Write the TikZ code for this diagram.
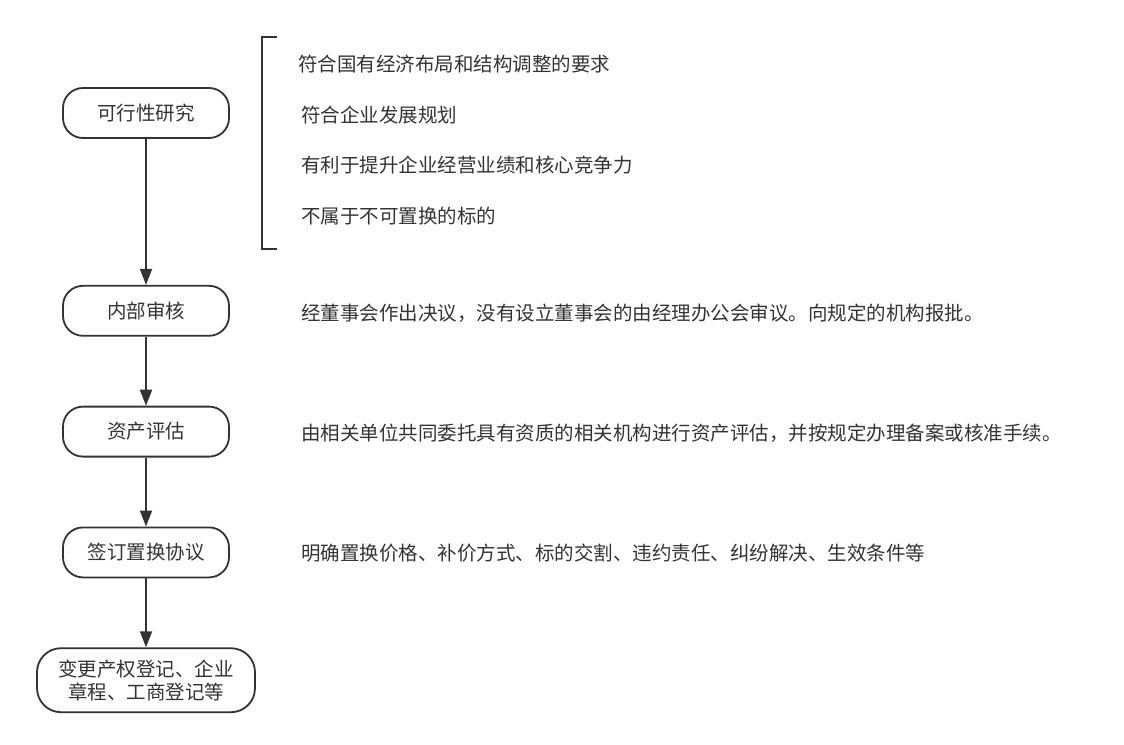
\documentclass[tikz,border=0pt]{standalone}
\usepackage{fontspec}
\setmainfont{Noto Sans CJK SC}
\usepackage{tikz}
\usetikzlibrary{positioning,arrows.meta}
\definecolor{inkgray}{HTML}{333333}

\begin{document}
\begin{tikzpicture}[x=1pt, y=-1pt,
    font=\fontsize{19.5}{23}\selectfont,
    stepbox/.style={draw=inkgray, line width=1.8pt, rounded corners=20pt,
        text=inkgray, minimum width=166pt, minimum height=50pt, align=center},
    note/.style={text=inkgray, inner sep=0pt, anchor=west},
    ]
\useasboundingbox (0,0) rectangle (1124,744);

\node[stepbox]                                  (yanjiu)  at (146,113) {可行性研究};
\node[stepbox, below=146pt of yanjiu]           (shenhe)  {内部审核};
\node[stepbox, below=69pt of shenhe]            (pinggu)  {资产评估};
\node[stepbox, below=69pt of pinggu]            (xieyi)   {签订置换协议};
\node[stepbox, below=69pt of xieyi, minimum width=218pt, minimum height=64pt,
      rounded corners=24pt]                     (dengji)  {变更产权登记、企业\\章程、工商登记等};

% conditions of the feasibility study
\draw[inkgray, line width=1.8pt] (277,37) -| (262,249) -- (277,249);
\node[note] (yao1) at (298,64)  {符合国有经济布局和结构调整的要求};
\node[note] (yao2) at (301,115) {符合企业发展规划};
\node[note] (yao3) at (301,165) {有利于提升企业经营业绩和核心竞争力};
\node[note] (yao4) at (301,216) {不属于不可置换的标的};

\node[note, right=71pt of shenhe, yshift=-2pt] (shuo2) {经董事会作出决议，没有设立董事会的由经理办公会审议。向规定的机构报批。};
\node[note, right=71pt of pinggu, yshift=-2pt] (shuo3) {由相关单位共同委托具有资质的相关机构进行资产评估，并按规定办理备案或核准手续。};
\node[note, right=71pt of xieyi, yshift=-1pt]  (shuo4) {明确置换价格、补价方式、标的交割、违约责任、纠纷解决、生效条件等};

\draw[
    >={Triangle[length=16pt,width=12pt]},
    ->, inkgray, line width=1.8pt,
    ]
     (yanjiu) edge (shenhe)
     (shenhe) edge (pinggu)
     (pinggu) edge (xieyi)
     (xieyi)  edge (dengji);
\end{tikzpicture}
\end{document}
